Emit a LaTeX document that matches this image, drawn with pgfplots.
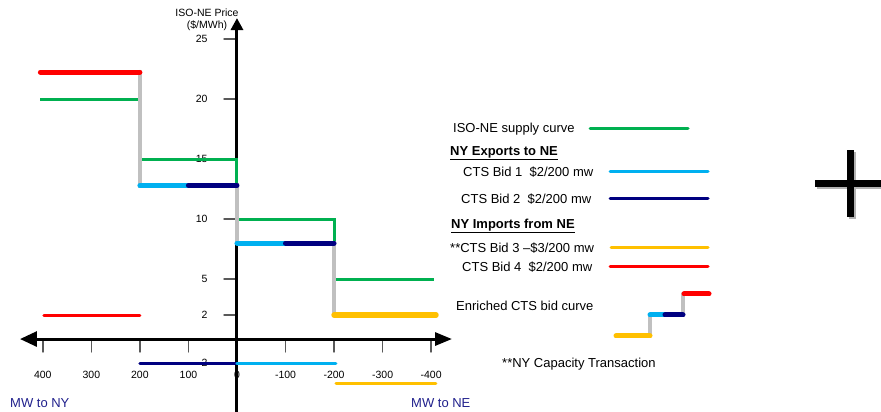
\documentclass[border=0pt]{standalone}
\usepackage{pgfplots}
\pgfplotsset{compat=1.18}
\usetikzlibrary{arrows.meta}
\usepackage{fontspec}
\setmainfont{Liberation Sans}

\definecolor{supply}{RGB}{0,176,80}
\definecolor{bidone}{RGB}{0,176,240}
\definecolor{bidtwo}{RGB}{0,0,128}
\definecolor{bidthree}{RGB}{255,192,0}
\definecolor{bidfour}{RGB}{255,0,0}
\definecolor{enriched}{RGB}{192,192,192}
\definecolor{mwblue}{RGB}{32,32,140}

\begin{document}
\begin{tikzpicture}
\path[use as bounding box] (0,0) rectangle (881pt,412pt);
% x runs to the right as MW towards NE (plotted x = -MW to NY),
% so the tick labels read 400 ... -400 from left to right
\begin{axis}[
  at={(20pt,0pt)}, anchor=south west,
  x=0.4854pt, y=12pt,
  xmin=-447, xmax=443, ymin=-6.08, ymax=26.75,
  axis lines=middle,
  axis line style={line width=3pt, black},
  x axis line style={{Triangle[length=17pt,width=15pt]}-{Triangle[length=17pt,width=13pt]}},
  y axis line style={-{Triangle[length=12pt,width=12pt]}},
  xtick={-400,-300,-200,-100,0,100,200,300,400},
  xticklabels={400,300,200,100,0,-100,-200,-300,-400},
  ytick={-2,2,5,10,15,20,25},
  yticklabels={-2,2,5,10,15,20,25},
  hide obscured x ticks=false, hide obscured y ticks=false,
  tick align=outside,
  major tick length=13pt,
  tick style={line width=1.4pt, black!65},
  xticklabel style={font=\fontsize{10.5}{12}\selectfont, yshift=-16pt},
  yticklabel style={font=\fontsize{10.5}{12}\selectfont, xshift=-13pt},
  clip=false,
  line cap=round,
]
% ISO-NE supply curve
\addplot[supply, line width=3pt, line cap=butt] coordinates
  {(-405,20) (-200,20) (-200,15) (0,15) (0,10) (200,10) (200,5) (405,5)};
% enriched CTS bid curve (gray steps)
\addplot[enriched, line width=4.5pt] coordinates
  {(-200,22.25) (-200,12.8) (0,12.8) (0,8) (200,8) (200,2)};
% bids on the enriched curve
\addplot[bidfour, line width=5pt] coordinates {(-405,22.25) (-200,22.25)};
\addplot[bidone, line width=5pt] coordinates {(-200,12.8) (-100,12.8)};
\addplot[bidtwo, line width=5pt] coordinates {(-100,12.8) (0,12.8)};
\addplot[bidone, line width=5pt] coordinates {(0,8) (100,8)};
\addplot[bidtwo, line width=5pt] coordinates {(100,8) (200,8)};
\addplot[bidthree, line width=5.5pt] coordinates {(200,2) (410,2)};
% bids at their own prices
\addplot[bidfour, line width=3pt] coordinates {(-398,2) (-200,2)};
\addplot[bidtwo, line width=3pt] coordinates {(-200,-2) (0,-2)};
\addplot[bidone, line width=3pt] coordinates {(0,-2) (204,-2)};
\addplot[bidthree, line width=3pt] coordinates {(204,-3.67) (410,-3.67)};
\end{axis}

\begin{scope}[x=1pt, y=-1pt, shift={(0pt,412pt)}]
  \begin{scope}[font=\fontsize{10.5}{12}\selectfont]
    \node at (207,13) {ISO-NE Price};
    \node at (207,26) {(\$/MWh)};
  \end{scope}
  \begin{scope}[font=\fontsize{13}{15}\selectfont]
    \node[text=mwblue, anchor=west, inner sep=0] at (10,403) {MW to NY};
    \node[text=mwblue, anchor=west, inner sep=0] at (411,403) {MW to NE};
    \node[anchor=west, inner sep=0] at (453,129) {ISO-NE supply curve};
    \node[anchor=west, inner sep=0] at (450,153) {\underline{\textbf{NY Exports to NE}}};
    \node[anchor=west, inner sep=0] at (463,172) {CTS Bid 1\ \ \$2/200 mw};
    \node[anchor=west, inner sep=0] at (461,199) {CTS Bid 2\ \ \$2/200 mw};
    \node[anchor=west, inner sep=0] at (451,226) {\underline{\textbf{NY Imports from NE}}};
    \node[anchor=west, inner sep=0] at (450,248) {**CTS Bid 3 --\$3/200 mw};
    \node[anchor=west, inner sep=0] at (462,267) {CTS Bid 4\ \ \$2/200 mw};
    \node[anchor=west, inner sep=0] at (456,306) {Enriched CTS bid curve};
    \node[anchor=west, inner sep=0] at (502,364) {**NY Capacity Transaction};
  \end{scope}
  \draw[supply, line width=3pt, line cap=round] (590,129) -- (688,129);
  \draw[bidone, line width=3pt, line cap=round] (610,172) -- (708,172);
  \draw[bidtwo, line width=3pt, line cap=round] (610,199) -- (708,199);
  \draw[bidthree, line width=3pt, line cap=round] (611,248) -- (708,248);
  \draw[bidfour, line width=3pt, line cap=round] (610,267) -- (708,267);
  % small enriched curve sample
  \begin{scope}[line cap=round]
    \draw[enriched, line width=4pt] (650,336) -- (650,315);
    \draw[enriched, line width=4pt] (683,315) -- (683,294);
    \draw[bidthree, line width=5pt] (616,336) -- (650,336);
    \draw[bidone, line width=5pt] (650,315) -- (665,315);
    \draw[bidtwo, line width=5pt] (665,315) -- (683,315);
    \draw[bidfour, line width=5pt] (684,294) -- (709,294);
  \end{scope}
  % plus sign
  \fill[black!30] (817,182) rectangle (884,189);
  \fill[black!30] (849,152) rectangle (856,219);
  \fill[black] (815,180) rectangle (884,187);
  \fill[black] (847,150) rectangle (854,217);
\end{scope}
\end{tikzpicture}
\end{document}
